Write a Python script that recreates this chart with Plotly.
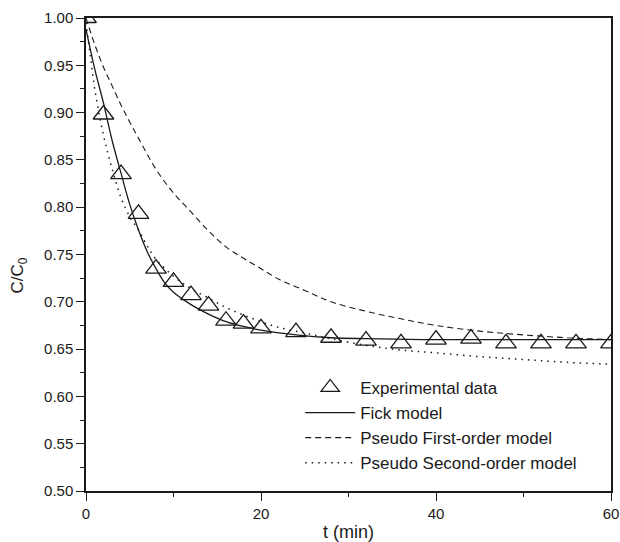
import plotly.graph_objects as go

# Experimental data
t_exp = [0, 2, 4, 6, 8, 10, 12, 14, 16, 18, 20, 24, 28, 32, 36, 40, 44, 48, 52, 56, 60]
c_exp = [1.000, 0.898, 0.835, 0.793, 0.735, 0.721, 0.707, 0.696, 0.680, 0.677, 0.672,
         0.668, 0.662, 0.659, 0.656, 0.660, 0.661, 0.656, 0.656, 0.656, 0.656]

# Fick model
t_fick = [0, 1, 2, 3, 4, 5, 6, 7, 8, 9, 10, 12, 14, 16, 18, 20, 24, 28, 32, 40, 50, 60]
c_fick = [0.988, 0.946, 0.910, 0.870, 0.836, 0.803, 0.776, 0.753, 0.735, 0.720, 0.710,
          0.697, 0.687, 0.679, 0.674, 0.670, 0.665, 0.662, 0.661, 0.660, 0.660, 0.660]

# Pseudo first-order model
t_pfo = [0, 1, 2, 3, 4, 5, 6, 8, 10, 12, 14, 16, 18, 20, 22, 25, 28, 32, 36, 40, 45, 50, 55, 60]
c_pfo = [1.000, 0.972, 0.948, 0.928, 0.908, 0.890, 0.873, 0.840, 0.815, 0.795, 0.775,
         0.758, 0.746, 0.735, 0.724, 0.712, 0.700, 0.690, 0.682, 0.675, 0.669, 0.665,
         0.662, 0.660]

# Pseudo second-order model
t_pso = [0, 0.5, 1, 2, 3, 4, 5, 6, 7, 8, 10, 12, 14, 16, 18, 20, 22, 25, 28, 32, 36, 40,
         45, 50, 55, 60]
c_pso = [0.995, 0.960, 0.925, 0.876, 0.840, 0.810, 0.790, 0.776, 0.759, 0.745, 0.727,
         0.714, 0.704, 0.694, 0.686, 0.679, 0.673, 0.667, 0.661, 0.654, 0.649, 0.646,
         0.642, 0.639, 0.636, 0.634]

FONT = "Liberation Sans, Arial, sans-serif"
INK = "#1a1a1a"

fig = go.Figure()
fig.add_trace(go.Scatter(
    x=t_exp, y=c_exp, mode="markers", name="Experimental data",
    marker=dict(symbol="triangle-up-open", size=18, color=INK, line=dict(width=1.3, color=INK)),
))
fig.add_trace(go.Scatter(
    x=t_fick, y=c_fick, mode="lines", name="Fick model",
    line=dict(color=INK, width=1.3, shape="spline", smoothing=1.0),
))
fig.add_trace(go.Scatter(
    x=t_pfo, y=c_pfo, mode="lines", name="Pseudo First-order model",
    line=dict(color=INK, width=1.1, dash="6px,4px", shape="spline", smoothing=1.0),
))
fig.add_trace(go.Scatter(
    x=t_pso, y=c_pso, mode="lines", name="Pseudo Second-order model",
    line=dict(color=INK, width=1.5, dash="1.5px,5px", shape="spline", smoothing=1.0),
))

fig.update_layout(
    width=620, height=542,
    margin=dict(l=86, r=9, t=18, b=51, autoexpand=False),
    paper_bgcolor="white", plot_bgcolor="white",
    font=dict(family=FONT, color=INK, size=14),
    showlegend=True,
    legend=dict(
        x=0.408, y=0.256, xanchor="left", yanchor="top",
        bgcolor="rgba(0,0,0,0)", borderwidth=0,
        font=dict(family=FONT, size=17, color=INK),
        itemwidth=50, tracegroupgap=0,
    ),
    xaxis=dict(
        range=[0, 60], dtick=20, tick0=0, automargin=False,
        showline=True, linecolor=INK, linewidth=1.5, mirror=True,
        ticks="outside", ticklen=8, tickwidth=1.3, tickcolor=INK,
        minor=dict(dtick=10, ticks="outside", ticklen=4, tickwidth=1.3, tickcolor=INK),
        showgrid=False, zeroline=False,
        tickfont=dict(size=15),
        title=dict(text="t (min)", font=dict(size=18), standoff=9),
    ),
    yaxis=dict(
        range=[0.5, 1.0], dtick=0.05, tick0=0.5, tickformat=".2f", automargin=False,
        showline=True, linecolor=INK, linewidth=1.5, mirror=True,
        ticks="outside", ticklen=8, tickwidth=1.3, tickcolor=INK,
        minor=dict(dtick=0.025, ticks="outside", ticklen=4, tickwidth=1.3, tickcolor=INK),
        showgrid=False, zeroline=False,
        tickfont=dict(size=15),
    ),
    xaxis2=dict(
        overlaying="x", side="top", range=[0, 60], dtick=10, automargin=False,
        ticks="inside", ticklen=2, tickwidth=1, tickcolor="#666",
        showticklabels=False, showgrid=False, zeroline=False, showline=False,
    ),
    yaxis2=dict(
        overlaying="y", side="right", range=[0.5, 1.0], dtick=0.025, tick0=0.5, automargin=False,
        ticks="outside", ticklen=3, tickwidth=1, tickcolor="#555",
        showticklabels=False, showgrid=False, zeroline=False, showline=False,
    ),
    annotations=[dict(
        text="C/C<sub>0</sub>", xref="paper", yref="paper",
        x=-0.128, y=0.455, xanchor="center", yanchor="middle",
        textangle=-90, showarrow=False, font=dict(family=FONT, size=17, color=INK),
    )],
)

fig.write_html("out.html")
